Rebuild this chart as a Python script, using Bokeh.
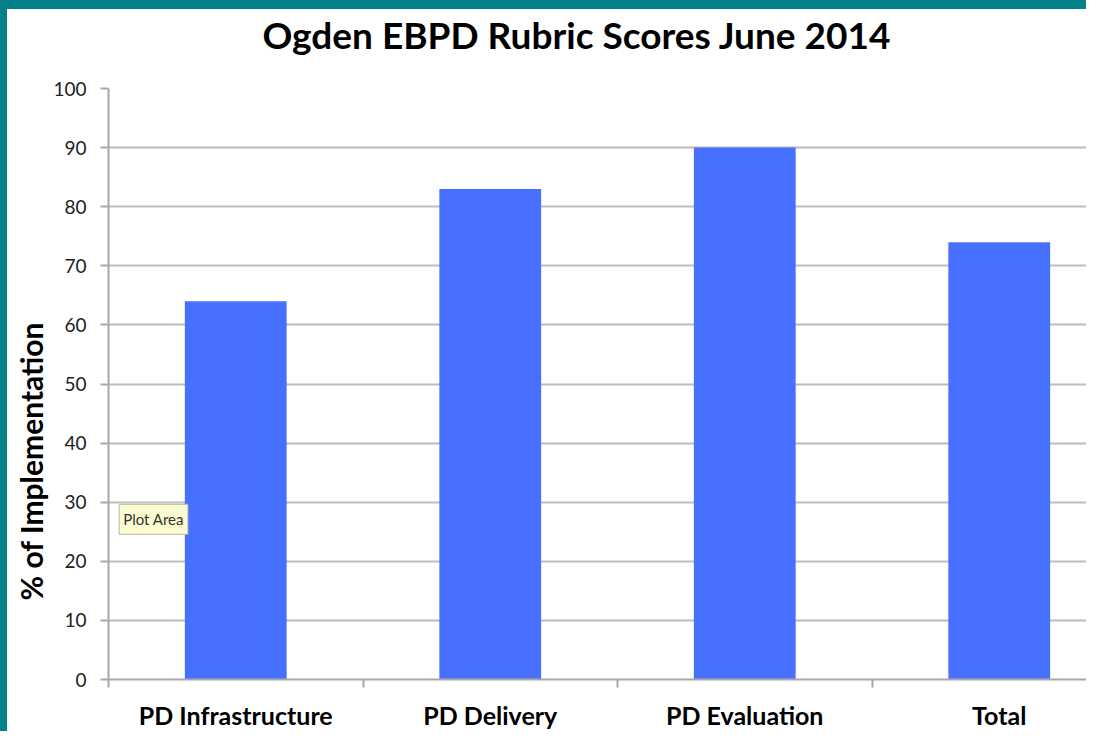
from bokeh.plotting import figure
from bokeh.models import Range1d, FixedTicker, Label, Title
from bokeh.embed import file_html
from bokeh.resources import INLINE

# ---- data ----
categories = ["PD Infrastructure", "PD Delivery", "PD Evaluation", "Total"]
scores = [64, 83, 90, 74]
y_ticks = [0, 10, 20, 30, 40, 50, 60, 70, 80, 90, 100]
title_text = "Ogden EBPD Rubric Scores June 2014"
y_label = "% of Implementation"

TEAL = "#05818A"
BAR = "#4870FF"
FONT = "Lato"

fig_w, fig_h = 1086, 731
frame_left = 101
cat_px = 254.5
x_end = (fig_w - frame_left) / cat_px

p = figure(width=fig_w, height=fig_h, output_backend="svg", toolbar_location=None,
           x_range=Range1d(0, x_end), y_range=Range1d(0, 100),
           min_border_left=frame_left, min_border_right=0,
           min_border_top=79, min_border_bottom=61,
           background_fill_color="white", border_fill_color="white")
p.outline_line_color = None
p.styles = {"border-top": f"9px solid {TEAL}", "border-left": f"7px solid {TEAL}"}

centers = [i + 0.5 for i in range(len(categories))]
p.vbar(x=centers, top=scores, width=0.4, fill_color=BAR, line_color=None)

# spacer between plot area and title (closest to the frame), then the title
p.add_layout(Title(text=" ", text_font=FONT, text_font_size="10px", standoff=18), "above")
p.add_layout(Title(text=title_text, align="left", offset=154, standoff=0,
                   text_font=FONT, text_font_size="37px", text_font_style="bold",
                   text_color="black"), "above")

# grid
p.xgrid.visible = False
p.ygrid.ticker = FixedTicker(ticks=y_ticks)
p.ygrid.grid_line_color = "#BDBDBD"
p.ygrid.grid_line_width = 2

# y axis
ya = p.yaxis[0]
ya.ticker = FixedTicker(ticks=y_ticks)
ya.axis_line_color = "#A8A8A8"
ya.axis_line_width = 2
ya.major_tick_line_color = "#A8A8A8"
ya.major_tick_line_width = 2
ya.major_tick_out = 8
ya.major_tick_in = 0
ya.minor_tick_line_color = None
ya.major_label_standoff = 14
ya.major_label_text_font = FONT
ya.major_label_text_font_size = "19px"
ya.major_label_text_color = "#222222"

# x axis
xa = p.xaxis[0]
xa.ticker = FixedTicker(ticks=centers, minor_ticks=list(range(len(categories))))
xa.major_label_overrides = {c: lab for c, lab in zip(centers, categories)}
xa.axis_line_color = "#A8A8A8"
xa.axis_line_width = 2
xa.major_tick_line_color = None
xa.minor_tick_line_color = "#A8A8A8"
xa.minor_tick_line_width = 2
xa.minor_tick_out = 8
xa.minor_tick_in = 0
xa.major_label_standoff = 12
xa.major_label_text_font = FONT
xa.major_label_text_font_size = "25px"
xa.major_label_text_font_style = "bold"
xa.major_label_text_color = "black"

# y axis label, placed in the left panel (offset toward the bottom like the original)
p.add_layout(Title(text=y_label, align="left", offset=79, standoff=4,
                   text_font=FONT, text_font_size="30px", text_font_style="bold",
                   text_color="black"), "left")

# "Plot Area" tooltip
p.add_layout(Label(x=0.042, y=27.1, text="Plot Area", text_align="left", text_baseline="middle",
                   text_font=FONT, text_font_size="15px", text_color="#333333",
                   background_fill_color="#FBFBD0", border_line_color="#B8B8A0",
                   border_line_width=1, padding=(4, 6)))

open("out.html", "w").write(file_html(p, INLINE))
